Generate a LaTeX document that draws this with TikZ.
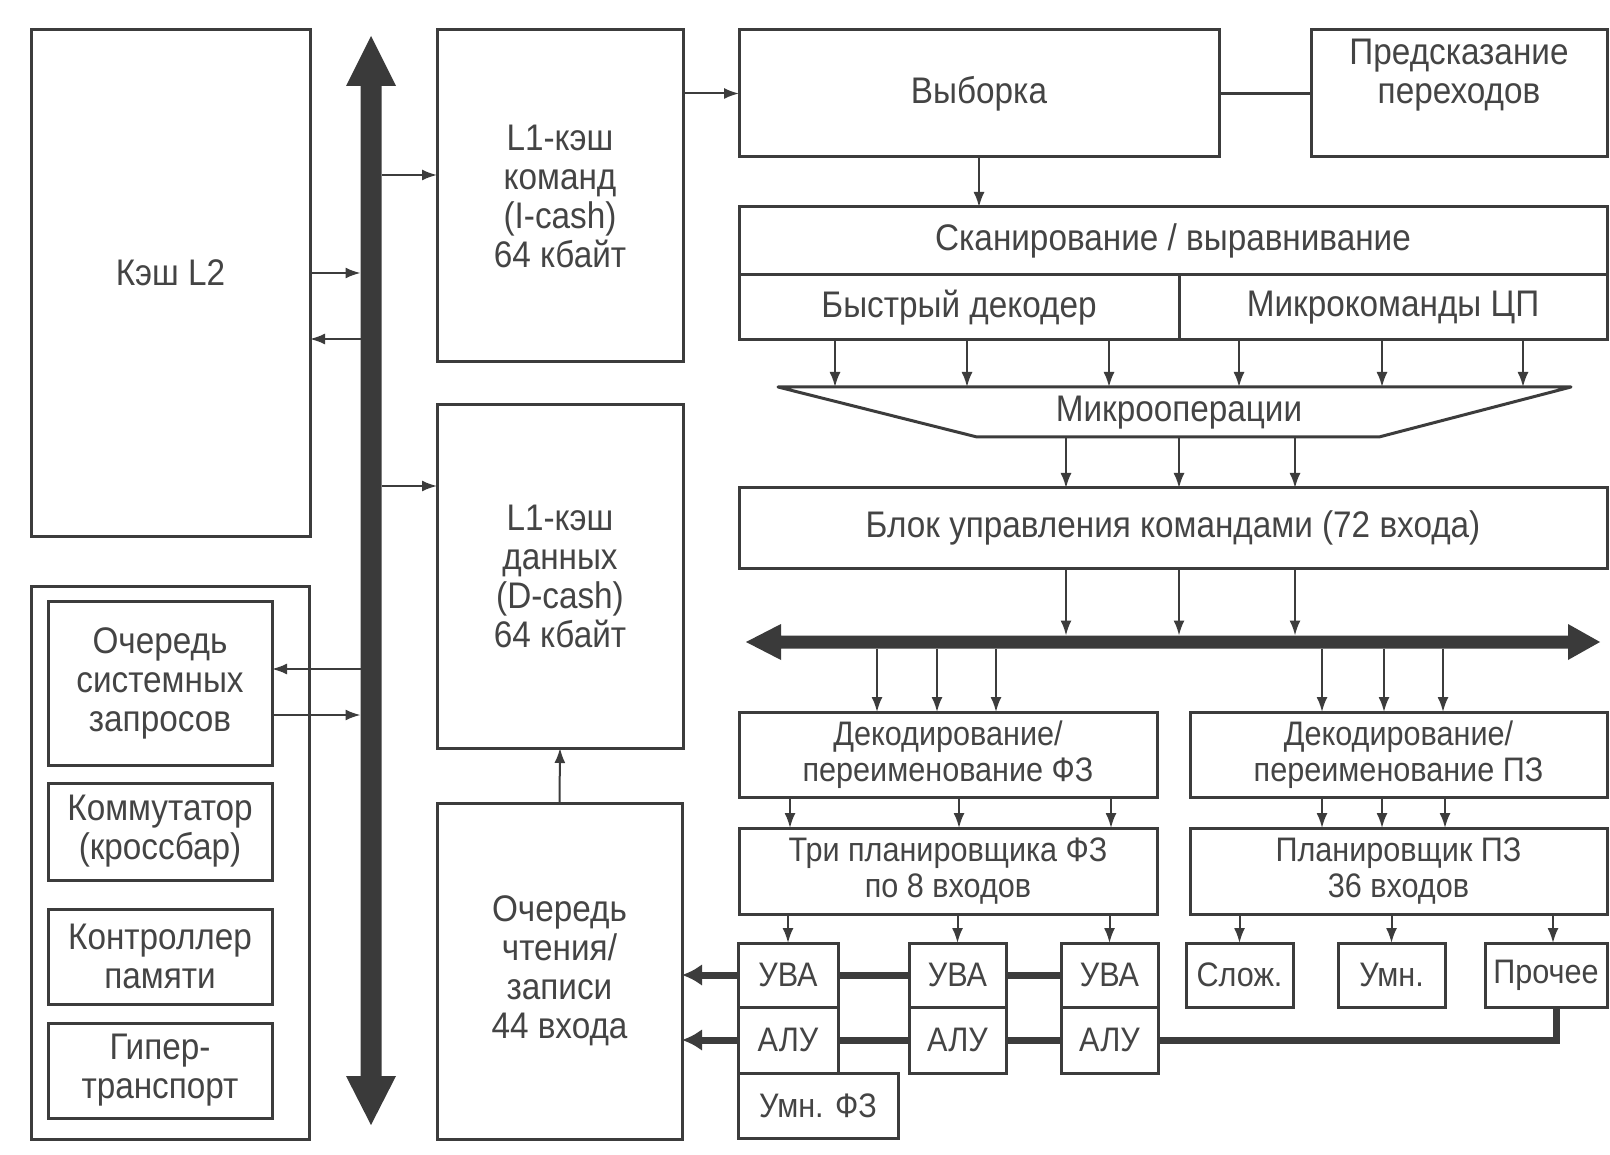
\documentclass[tikz,border=0pt]{standalone}
\usepackage{fontspec}
\setmainfont{Liberation Sans}[FakeStretch=0.9]
\usetikzlibrary{arrows.meta}
\definecolor{ln}{HTML}{3C3C3C}
\definecolor{tx}{HTML}{444444}
\definecolor{busc}{HTML}{3A3A3A}
\tikzset{
  blk/.style={draw=ln, line width=3pt, inner sep=0pt, outer sep=0pt, align=center, text=tx, font=\fontsize{37}{39}\selectfont, anchor=north west},
  sml/.style={font=\fontsize{34}{36}\selectfont},
  lbl/.style={text=tx, align=center, font=\fontsize{37}{39}\selectfont, inner sep=0pt},
  arr/.style={draw=ln, line width=2pt, -{Latex[length=15pt,width=11pt]}},
  thk/.style={draw=ln, line width=7pt},
  thkarr/.style={draw=ln, line width=7pt, -{Latex[length=20pt,width=22pt]}},
}
\newcommand\bx[7][]{\node[blk,minimum width={(#5-#3)*1pt},minimum height={(#6-#4)*1pt},#1] (#2) at (#3,#4) {#7};}
\begin{document}
\begin{tikzpicture}[x=1pt,y=-1pt]
\useasboundingbox[fill=white] (0,0) rectangle (1610,1155);

% ---------- left column ----------
\bx[label={[lbl,yshift=10pt]center:Кэш L2}]{l2}{31}{30}{310}{536}{}
\bx{grp}{31}{586}{309}{1139}{}
\bx{sq}{48}{601}{272}{765}{Очередь\\системных\\запросов}
\bx{kom}{48}{783}{272}{880}{Коммутатор\\(кроссбар)}
\bx{kon}{48}{909}{272}{1004}{Контроллер\\памяти}
\bx{gip}{48}{1023}{272}{1118}{Гипер-\\транспорт}

% ---------- vertical bus ----------
\fill[busc] (371,36) -- (396,86) -- (381.5,86) -- (381.5,1076) -- (396,1076) -- (371,1125)
  -- (346,1076) -- (360.5,1076) -- (360.5,86) -- (346,86) -- cycle;

% ---------- caches ----------
\bx{ic}{437}{30}{683}{362}{L1-кэш\\команд\\(I-cash)\\64 кбайт}
\bx{dc}{437}{405}{683}{748}{L1-кэш\\данных\\(D-cash)\\64 кбайт}
\bx{rw}{437}{803}{682}{1139}{Очередь\\чтения/\\записи\\44 входа}

\coordinate (b1) at (381.5,175);
\coordinate (b2) at (381.5,486);
\coordinate (b3) at (360.5,273);
\coordinate (b4) at (360.5,339);
\coordinate (b5) at (360.5,669);
\coordinate (b6) at (360.5,715);
\draw[arr] (b1) -- (ic.west |- b1);
\draw[arr] (b2) -- (dc.west |- b2);
\draw[arr] (l2.east |- b3) -- (b3);
\draw[arr] (b4) -- (l2.east |- b4);
\draw[arr] (b5) -- (sq.east |- b5);
\draw[arr] (sq.east |- b6) -- (b6);
\draw[arr] (rw.north) -- (dc.south);

% ---------- front end ----------
\bx{vyb}{739}{30}{1219}{157}{Выборка}
\bx[label={[lbl,yshift=18pt]center:Предсказание\\переходов}]{pred}{1311}{30}{1607}{157}{}
\draw[draw=ln, line width=2.5pt] (vyb.east) -- (pred.west);
\draw[arr] (ic.east |- vyb.west) -- (vyb.west);
\bx{scan}{739}{207}{1607}{275}{Сканирование / выравнивание}
\bx{bd}{739}{275}{1179}{340}{Быстрый декодер}
\bx{mk}{1179}{275}{1607}{340}{Микрокоманды ЦП}
\draw[arr] (vyb.south) -- (vyb.south |- scan.north);

% trapezoid
\draw[draw=ln, line width=3pt, line join=round] (778,387) -- (1571,387) -- (1379,437) -- (977,437) -- cycle;
\node[lbl] (mo) at (1179,413) {Микрооперации};
\foreach \i/\x in {1/835,2/967,3/1109} {
  \coordinate (t\i) at (\x,387);
  \draw[arr] (bd.south -| t\i) -- (t\i);
}
\foreach \i/\x in {4/1239,5/1382,6/1523} {
  \coordinate (t\i) at (\x,387);
  \draw[arr] (mk.south -| t\i) -- (t\i);
}
\bx{bu}{739}{488}{1607}{568}{Блок управления командами (72 входа)}
\foreach \i/\x in {1/1066,2/1179,3/1295} {
  \coordinate (tb\i) at (\x,437);
  \draw[arr] (tb\i) -- (bu.north -| tb\i);
}

% ---------- horizontal bus ----------
\fill[busc] (746,642) -- (781,624) -- (781,635.5) -- (1568,635.5) -- (1568,624) -- (1600,642)
  -- (1568,660) -- (1568,648.5) -- (781,648.5) -- (781,660) -- cycle;
\foreach \i/\x in {1/1066,2/1179,3/1295} {
  \coordinate (hb\i) at (\x,635.5);
  \draw[arr] (bu.south -| hb\i) -- (hb\i);
}

% ---------- back end ----------
\bx[sml]{df}{739}{712}{1157}{797}{Декодирование/\\переименование ФЗ}
\bx[sml]{dp}{1190}{712}{1607}{797}{Декодирование/\\переименование ПЗ}
\foreach \i/\x in {1/877,2/937,3/996} {
  \coordinate (hf\i) at (\x,648.5);
  \draw[arr] (hf\i) -- (df.north -| hf\i);
}
\foreach \i/\x in {1/1322,2/1384,3/1443} {
  \coordinate (hp\i) at (\x,648.5);
  \draw[arr] (hp\i) -- (dp.north -| hp\i);
}
\bx[sml]{sf}{739}{828}{1157}{914}{Три планировщика ФЗ\\по 8 входов}
\bx[sml]{sp}{1190}{828}{1607}{914}{Планировщик ПЗ\\36 входов}

\bx[sml]{uva1}{738}{943}{838}{1007}{УВА}
\bx[sml]{uva2}{909}{943}{1006}{1007}{УВА}
\bx[sml]{uva3}{1061}{943}{1158}{1007}{УВА}
\bx[sml]{alu1}{738}{1007}{838}{1073}{АЛУ}
\bx[sml]{alu2}{909}{1007}{1006}{1073}{АЛУ}
\bx[sml]{alu3}{1061}{1007}{1158}{1073}{АЛУ}
\bx[sml]{umf}{738}{1073}{898}{1138}{Умн. ФЗ}
\bx[sml]{sl}{1186}{943}{1293}{1007}{Слож.}
\bx[sml]{um}{1338}{943}{1445}{1007}{Умн.}
\bx[sml]{pr}{1485}{943}{1607}{1007}{Прочее}

\foreach \a/\b in {uva1/790,uva2/959,uva3/1111} {
  \coordinate (fa\a) at (\b,797);
  \draw[arr] (fa\a) -- (sf.north -| fa\a);
}
\foreach \a/\b in {p1/1322,p2/1382,p3/1445} {
  \coordinate (pa\a) at (\b,797);
  \draw[arr] (pa\a) -- (sp.north -| pa\a);
}
\foreach \n in {uva1,uva2,uva3} {
  \draw[arr] (sf.south -| \n.north) -- (\n.north);
}
\foreach \n in {sl,um} {
  \draw[arr] (sp.south -| \n.north) -- (\n.north);
}
\coordinate (prt) at ([xshift=7pt]pr.north);
\draw[arr] (sp.south -| prt) -- (prt);

\draw[thk] (uva1.east) -- (uva2.west);
\draw[thk] (uva2.east) -- (uva3.west);
\draw[thk] (alu1.east) -- (alu2.west);
\draw[thk] (alu2.east) -- (alu3.west);
\coordinate (prb) at ([xshift=10pt]pr.south);
\draw[thk, line join=miter] (alu3.east) -| (prb);
\draw[thkarr] (uva1.west) -- (rw.east |- uva1.west);
\draw[thkarr] (alu1.west) -- (rw.east |- alu1.west);
\end{tikzpicture}
\end{document}
